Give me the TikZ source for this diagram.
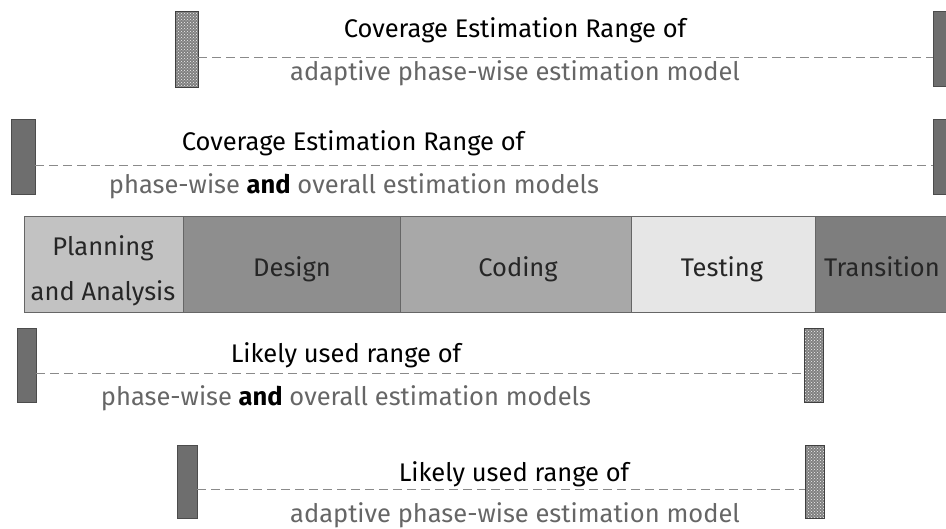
\documentclass[tikz,border=0pt]{standalone}
\usepackage{fontspec}
\setmainfont{Fira Sans}
\usetikzlibrary{patterns}
\definecolor{subgray}{HTML}{666666}
\definecolor{markdark}{HTML}{6E6E6E}
\definecolor{dashgray}{HTML}{8A8A8A}
\definecolor{cplan}{HTML}{C2C2C2}
\definecolor{cdesign}{HTML}{8E8E8E}
\definecolor{ccoding}{HTML}{A8A8A8}
\definecolor{ctesting}{HTML}{E6E6E6}
\definecolor{ctrans}{HTML}{7E7E7E}
\begin{document}
\begin{tikzpicture}[x=1pt,y=-1pt,
  markdk/.style={draw=black!70,line width=0.8pt,fill=markdark},
  markdot/.style={draw=black!75,line width=0.8pt,preaction={fill=black!50},pattern=crosshatch dots,pattern color=white!90!gray},
  rangeline/.style={draw=dashgray,dashed,dash pattern=on 9pt off 5pt,line width=0.8pt},
  titletxt/.style={font=\fontsize{25.5}{30}\selectfont,text=black,inner sep=0pt,anchor=base},
  subtxt/.style={font=\fontsize{25.5}{30}\selectfont,text=subgray,inner sep=0pt,anchor=base},
  phase/.style={draw=black!60,line width=0.6pt,inner sep=0pt,minimum height=96pt,anchor=north west},
  phasetxt/.style={font=\fontsize{25.5}{30}\selectfont,text=black!85,inner sep=0pt,anchor=base}]
\useasboundingbox (0,0) rectangle (946,528);
% Row 1
\path[markdot] (175,11) rectangle (198,87);
\coordinate (r1l) at (198,57);
\path[markdk] (933,11) rectangle (950,86);
\coordinate (r1r) at (933,57);
\draw[rangeline] (r1l) -- (r1r);
\node[titletxt] (t1) at (515,37) {Coverage Estimation Range of};
\node[subtxt] (s1) at (515,80) {adaptive phase-wise estimation model};
% Row 2
\path[markdk] (11,119) rectangle (35,194);
\coordinate (r2l) at (35,165);
\path[markdk] (933,119) rectangle (950,194);
\coordinate (r2r) at (933,165);
\draw[rangeline] (r2l) -- (r2r);
\node[titletxt] (t2) at (353,150) {Coverage Estimation Range of};
\node[subtxt] (s2) at (354,193) {phase-wise {\color{black}\bfseries and} overall estimation models};
% Phase bar
\node[phase,fill=cplan,minimum width=159pt] (plan) at (24,216) {};
\node[phase,fill=cdesign,minimum width=217pt] (design) at (183,216) {};
\node[phase,fill=ccoding,minimum width=231pt] (coding) at (400,216) {};
\node[phase,fill=ctesting,minimum width=184pt] (testing) at (631,216) {};
\node[phase,fill=ctrans,minimum width=135pt] (trans) at (815,216) {};
\node[phasetxt] (planA) at (103,255) {Planning};
\node[phasetxt] (planB) at (103,300) {and Analysis};
\node[phasetxt] (designT) at (292,276) {Design};
\node[phasetxt] (codingT) at (518,276) {Coding};
\node[phasetxt] (testingT) at (722,276) {Testing};
\node[phasetxt] (transT) at (882,276) {Transition};
% Row 3
\path[markdk] (17,328) rectangle (36,402);
\coordinate (r3l) at (36,373);
\path[markdot] (804,328) rectangle (823,402);
\coordinate (r3r) at (804,373);
\draw[rangeline] (r3l) -- (r3r);
\node[titletxt] (t3) at (346,362) {Likely used range of};
\node[subtxt] (s3) at (346,405) {phase-wise {\color{black}\bfseries and} overall estimation models};
% Row 4
\path[markdk] (177,445) rectangle (197,518);
\coordinate (r4l) at (197,489);
\path[markdot] (805,445) rectangle (824,518);
\coordinate (r4r) at (805,489);
\draw[rangeline] (r4l) -- (r4r);
\node[titletxt] (t4) at (514,481) {Likely used range of};
\node[subtxt] (s4) at (515,522) {adaptive phase-wise estimation model};
\end{tikzpicture}
\end{document}
